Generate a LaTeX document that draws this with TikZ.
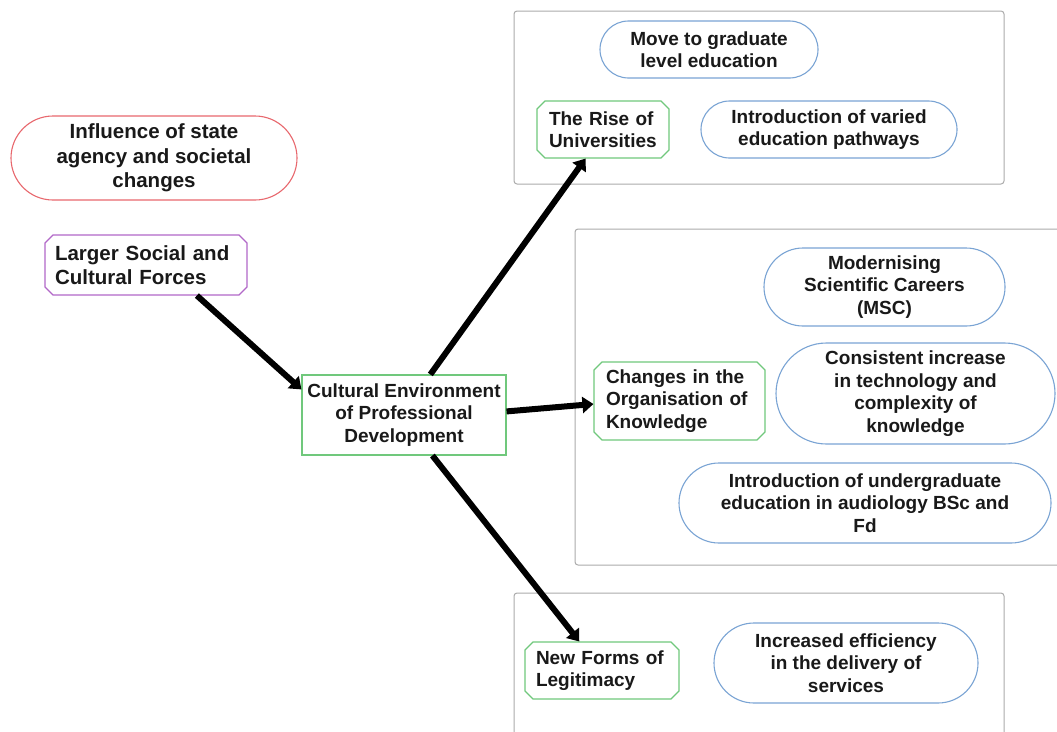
\documentclass[tikz,border=0pt]{standalone}
\usepackage{fontspec}
\setmainfont{Liberation Sans}
\usetikzlibrary{shapes.misc,arrows.meta}
\definecolor{pillred}{RGB}{232,104,110}
\definecolor{boxpurple}{RGB}{178,104,200}
\definecolor{boxgreen}{RGB}{112,200,124}
\definecolor{pillblue}{RGB}{122,164,212}
\definecolor{panelgray}{RGB}{172,172,172}
\tikzset{
  txt/.style={font=\fontsize{19}{22.5}\selectfont\bfseries, text=black!90, inner sep=1pt},
  bigtxt/.style={font=\fontsize{20.5}{24.5}\selectfont\bfseries},
  pill/.style={txt, rounded rectangle, draw=pillblue, line width=1.1pt, align=center},
  redpill/.style={pill, bigtxt, draw=pillred},
  chbox/.style={txt, chamfered rectangle, chamfered rectangle xsep=4pt, chamfered rectangle ysep=4pt, chamfered rectangle angle=45, draw=boxgreen, line width=1.1pt, align=left},
  purplebox/.style={chbox, bigtxt, draw=boxpurple},
  centre/.style={txt, rectangle, draw=boxgreen, line width=1.1pt, align=center},
  panel/.style={draw=panelgray, line width=1pt, rounded corners=3pt},
  arr/.style={line width=6pt, -{Triangle[length=11pt,width=16pt]}}
}
\begin{document}
\begin{tikzpicture}[x=1pt,y=-1pt]
\useasboundingbox (0,0) rectangle (1057,731);
\clip (0,0) rectangle (1057,731);
\fill[white] (0,0) rectangle (1057,731);

% grouping panels
\draw[panel] (514,11) rectangle (1004,184);
\draw[panel] (575,229) rectangle (1065,565);
\draw[panel] (514,593) rectangle (1004,740);

% left column
\node[redpill, minimum width=288pt, minimum height=84pt] (influence) at (154,158)
  {Influence of state\\agency and societal\\changes};
\node[purplebox, minimum width=202pt, minimum height=60pt, text width=182pt] (forces) at (146,265)
  {Larger Social and\\Cultural Forces};

% central node
\node[centre, minimum width=204pt, minimum height=80pt] (culture) at (404,415)
  {Cultural Environment\\of Professional\\Development};

% top panel
\node[pill, minimum width=220pt, minimum height=57pt] (graduate) at (709,49.5)
  {Move to graduate\\level education};
\node[chbox, minimum width=132pt, minimum height=57pt, text width=108pt] (rise) at (603,129.5)
  {The Rise of\\Universities};
\node[pill, minimum width=258pt, minimum height=57pt] (pathways) at (829,129.5)
  {Introduction of varied\\education pathways};

% middle panel
\node[pill, minimum width=243pt, minimum height=78pt] (msc) at (884.5,287)
  {Modernising\\Scientific Careers\\(MSC)};
\node[chbox, minimum width=171pt, minimum height=78pt, text width=147pt] (knowledge) at (679.5,401)
  {Changes in the\\Organisation of\\Knowledge};
\node[pill, minimum width=281pt, minimum height=101pt] (technology) at (915.5,393.5)
  {Consistent increase\\in technology and\\complexity of\\knowledge};
\node[pill, minimum width=374pt, minimum height=80pt] (undergrad) at (865,503)
  {Introduction of undergraduate\\education in audiology BSc and\\Fd};

% bottom panel
\node[chbox, minimum width=154pt, minimum height=57pt, text width=132pt] (legitimacy) at (602,670.5)
  {New Forms of\\Legitimacy};
\node[pill, minimum width=266pt, minimum height=80pt] (efficiency) at (846,663)
  {Increased efficiency\\in the delivery of\\services};

% connectors
\draw[arr] (forces.-31) -- (culture.166);
\draw[arr] (culture.57) -- (rise.-121);
\draw[arr] (culture.2.8) -- (knowledge.182);
\draw[arr] (culture.-55) -- (legitimacy.128);
\end{tikzpicture}
\end{document}
